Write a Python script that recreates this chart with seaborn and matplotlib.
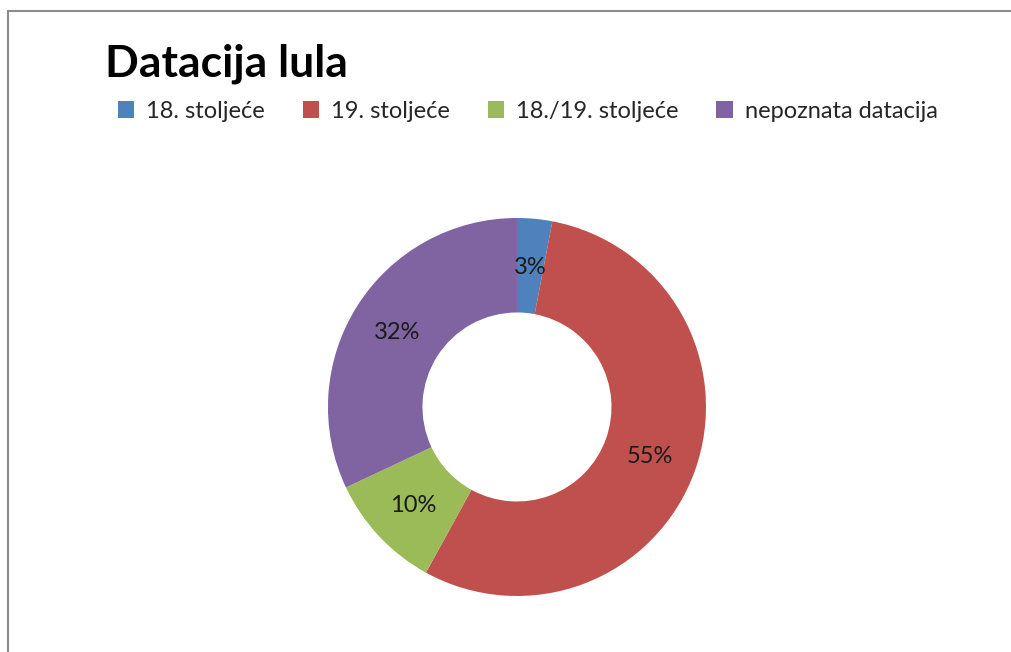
import seaborn as sns
import matplotlib.pyplot as plt
import numpy as np
from matplotlib.patches import Patch
from matplotlib.lines import Line2D

# podaci
labels = ["18. stoljeće", "19. stoljeće", "18./19. stoljeće", "nepoznata datacija"]
shares = [3, 55, 10, 32]
pct_labels = ["3%", "55%", "10%", "32%"]
colors = ["#4F81BD", "#C0504D", "#9BBB59", "#8064A2"]

sns.set_theme(style="white")
plt.rcParams["font.family"] = ["Lato", "DejaVu Sans"]

fig = plt.figure(figsize=(10.11, 6.52), dpi=100)
ax = fig.add_axes([0.3244, 0.0859, 0.3739, 0.5798])

ax.pie(
    shares, colors=colors, startangle=90, counterclock=False,
    radius=1.0, wedgeprops=dict(width=0.5, edgecolor="none"),
)
# oznake postotaka na sredini prstena
cum = np.cumsum([0] + shares[:-1])
for start, val, txt in zip(cum, shares, pct_labels):
    ang = np.deg2rad(90 - (start + val / 2) / sum(shares) * 360)
    ax.text(0.75 * np.cos(ang), 0.75 * np.sin(ang) - 0.01, txt,
            ha="center", va="center", fontsize=17, color="#1a1a1a")
ax.set_xlim(-1, 1)
ax.set_ylim(-1, 1)
ax.set_aspect("equal")
ax.axis("off")

# naslov
fig.text(105 / 1011, 1 - 77 / 652, "Datacija lula", fontsize=32,
         fontweight="bold", va="baseline", ha="left", color="black")

# legenda
handles = [Patch(facecolor=c, edgecolor="none") for c in colors]
fig.legend(handles, labels, ncol=4, loc="center", frameon=False,
           bbox_to_anchor=(0.522, 1 - 111 / 652), fontsize=17,
           handlelength=0.7, handleheight=0.7, handletextpad=0.5,
           columnspacing=1.6)

# okvir (vidljivi lijevi i gornji rub)
x0, y0 = 8 / 1011, 1 - 11 / 652
fig.lines.append(Line2D([x0, x0], [0, y0], transform=fig.transFigure,
                        color="#8c8c8c", linewidth=1.5))
fig.lines.append(Line2D([x0, 1], [y0, y0], transform=fig.transFigure,
                        color="#8c8c8c", linewidth=1.5))

fig.savefig("out.png", dpi=100)
